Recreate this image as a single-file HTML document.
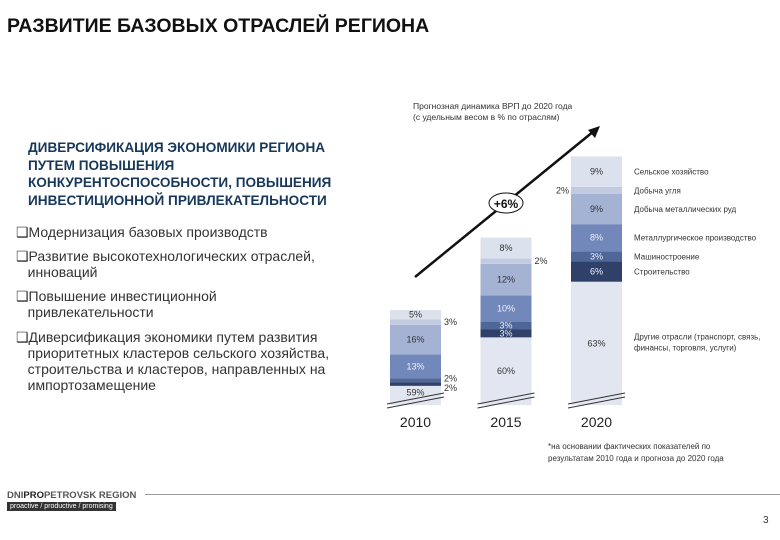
<!DOCTYPE html>
<html><head><meta charset="utf-8"><style>
body{margin:0;width:780px;height:540px;background:#fff;position:relative;overflow:hidden;font-family:"Liberation Sans","Noto Sans CJK SC",sans-serif;}
.t{position:absolute;white-space:nowrap}
</style></head><body>
<div class="t" style="left:7px;top:15px;font-size:19.5px;font-weight:bold;color:#111">РАЗВИТИЕ БАЗОВЫХ ОТРАСЛЕЙ РЕГИОНА</div>
<div class="t" style="left:28px;top:139px;font-size:13.6px;font-weight:bold;color:#17385a;line-height:17.5px">ДИВЕРСИФИКАЦИЯ ЭКОНОМИКИ РЕГИОНА<br>ПУТЕМ ПОВЫШЕНИЯ<br>КОНКУРЕНТОСПОСОБНОСТИ, ПОВЫШЕНИЯ<br>ИНВЕСТИЦИОННОЙ ПРИВЛЕКАТЕЛЬНОСТИ</div>
<div class="t" style="left:16px;top:224px;font-size:14px;color:#333;line-height:16px">
<div style="margin-bottom:8px">❑Модернизация базовых производств</div>
<div style="margin-bottom:8px">❑Развитие высокотехнологических отраслей,<br>&nbsp;&nbsp;&nbsp;инноваций</div>
<div style="margin-bottom:9px">❑Повышение инвестиционной<br>&nbsp;&nbsp;&nbsp;привлекательности</div>
<div>❑Диверсификация экономики путем развития<br>&nbsp;&nbsp;&nbsp;приоритетных кластеров сельского хозяйства,<br>&nbsp;&nbsp;&nbsp;строительства и кластеров, направленных на<br>&nbsp;&nbsp;&nbsp;импортозамещение</div>
</div>
<div class="t" style="left:413px;top:101px;font-size:8.5px;color:#333;line-height:11px">Прогнозная динамика ВРП до 2020 года<br>(с удельным весом в % по отраслям)</div>
<div class="t" style="left:548px;top:441px;font-size:8px;color:#333;line-height:12px">*на основании фактических показателей по<br>результатам 2010 года и прогноза до 2020 года</div>
<div class="t" style="left:7px;top:490px;font-size:9.5px;font-weight:bold;color:#555">DNI<span style="color:#222">PRO</span>PETROVSK REGION</div>
<div class="t" style="left:7px;top:502px;font-size:7px;color:#fff;background:#333;padding:1px 3px">proactive / productive / promising</div>
<div style="position:absolute;left:145px;top:494px;width:635px;height:1px;background:#999"></div>
<div class="t" style="left:763px;top:515px;font-size:10px;color:#333">3</div>
<svg id="chart" width="780" height="540" style="position:absolute;left:0;top:0"></svg>
<script>
const years=["2010","2015","2020"];
const grp=[100,142,183];
const sectors=["Сельское хозяйство","Добыча угля","Добыча металлических руд","Металлургическое производство","Машиностроение","Строительство","Другие отрасли (транспорт, связь, финансы, торговля, услуги)"];
const v2010=[5,3,16,13,2,2,59];
const v2015=[8,2,12,10,3,3,60];
const v2020=[9,2,9,8,3,6,63];
const series=[v2010,v2015,v2020];
const colors=["#dce1ee","#c3cbe0","#a4b3d3","#7388ba","#4f6698","#2f4169","#e2e6f0"];
const NS="http://www.w3.org/2000/svg",svg=document.getElementById('chart');
function mk(t,a){const e=document.createElementNS(NS,t);for(const k in a)e.setAttribute(k,a[k]);svg.appendChild(e);return e;}
const base=405,barW=51,cut=90;
function xPos(i){return 390+i*90.5;}
function rate(i){return 1.85*grp[i]/100;}
function segH(i,j,v){const h=v*rate(i);return j===6?h-cut:h;}
series.forEach((vals,i)=>{
  let y=base;const x=xPos(i);
  const ys=[];
  for(let j=6;j>=0;j--){
    const h=segH(i,j,vals[j]);y-=h;
    const r=mk('rect',{x:x,y:y,width:barW,height:h,fill:colors[j]});
    
    
    ys[j]=[y,h];
  }
  let prevThin=false;
  for(let j=0;j<7;j++){
    const [sy,h]=ys[j];const thin=h<7;
    let tx=x+barW/2,anchor='middle';
    if(thin){if(i===2){tx=x-2;anchor='end';}else{tx=x+barW+3;anchor='start';}}
    let ty=sy+h/2+3;
    if(thin&&prevThin)ty+=4;
    if(thin&&!prevThin&&j===4)ty-=2;
    if(j===6&&i===0)ty=sy+h/2;
    prevThin=thin;
    const t=mk('text',{x:tx,y:ty,'font-size':9,'text-anchor':anchor,fill:(j>=3&&j<=5&&!thin)?'#eef':'#333'});
    t.textContent=vals[j]+'%';
    
    
  }
  for(let k=0;k<2;k++){
    const l=mk('line',{x1:x-3,y1:base-3-k*4+6,x2:x+barW+3,y2:base-14-k*4+6,stroke:'#333','stroke-width':1});
    
    
  }
  const yl=mk('text',{x:x+barW/2,y:427,'font-size':14,'text-anchor':'middle',fill:'#222'});
  yl.textContent=years[i];
  
  
  if(i===2){
    for(let j=0;j<7;j++){
      const [sy,h]=ys[j];
      const lt=mk('text',{x:634,y:j===6?sy+h/2-4:sy+h/2+3,'font-size':8,fill:'#333'});
      
      
      if(j===6){lt.innerHTML='<tspan x="634">Другие отрасли (транспорт, связь,</tspan><tspan x="634" dy="11">финансы, торговля, услуги)</tspan>';}
      else lt.textContent=sectors[j];
    }
  }
});
const ar=mk('line',{x1:415,y1:277,x2:594,y2:131,stroke:'#111','stroke-width':2.5});


const ah=mk('polygon',{points:'600,126 588,130 595,138',fill:'#111'});


const el=mk('ellipse',{cx:506,cy:203,rx:17,ry:10,fill:'#fff',stroke:'#111','stroke-width':1});


const gt=mk('text',{x:506,y:208,'font-size':12,'font-weight':'bold','text-anchor':'middle',fill:'#111'});
gt.textContent='+6%';


</script>
</body></html>
